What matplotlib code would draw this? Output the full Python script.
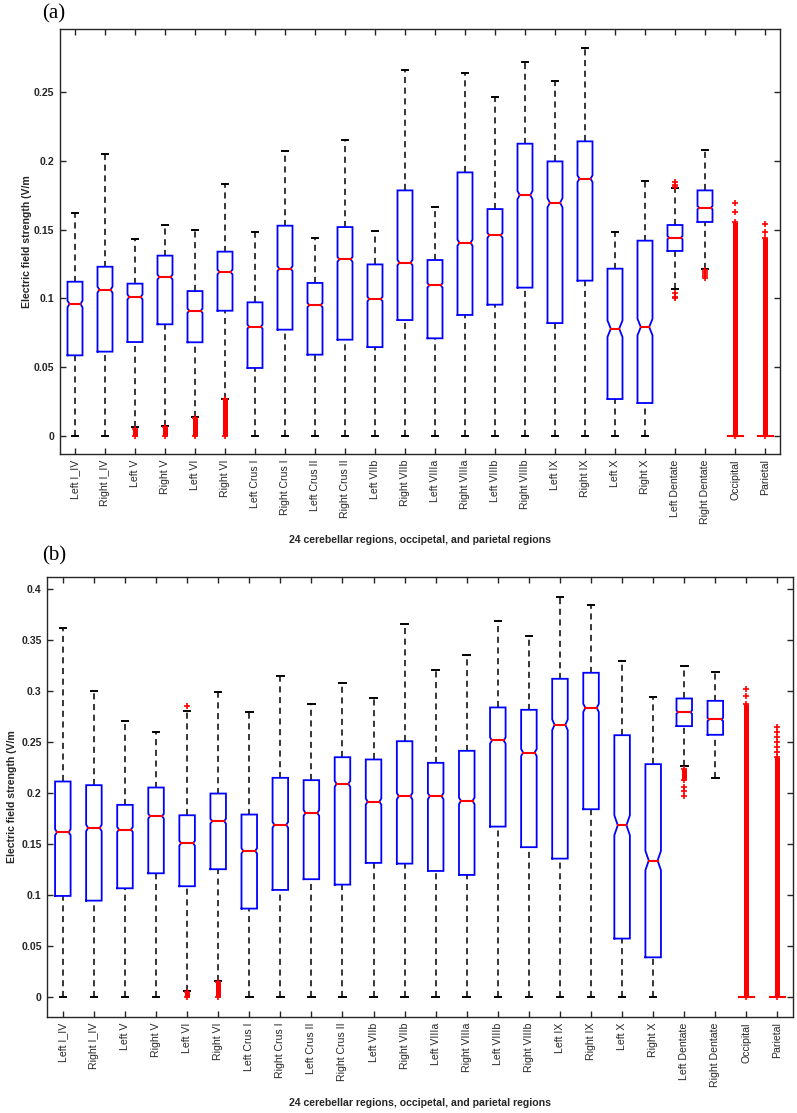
import matplotlib
matplotlib.use("Agg")
import matplotlib.pyplot as plt

plt.rcParams['font.family'] = ['Liberation Sans', 'DejaVu Sans']

regions = ["Left I_IV", "Right I_IV", "Left V", "Right V", "Left VI", "Right VI",
           "Left Crus I", "Right Crus I", "Left Crus II", "Right Crus II",
           "Left VIIb", "Right VIIb", "Left VIIIa", "Right VIIIa",
           "Left VIIIb", "Right VIIIb", "Left IX", "Right IX", "Left X", "Right X",
           "Left Dentate", "Right Dentate", "Occipital", "Parietal"]

# ---------------- panel (a) ----------------
a_q1 = [0.0585, 0.0612, 0.0682, 0.0811, 0.0680, 0.0910, 0.0493, 0.0772, 0.0590, 0.0699,
        0.0645, 0.0842, 0.0709, 0.0879, 0.0954, 0.1078, 0.0820, 0.1129, 0.0267, 0.0238,
        0.1345, 0.1556, 0.0, 0.0]
a_med = [0.0959, 0.1063, 0.1010, 0.1155, 0.0910, 0.1192, 0.0794, 0.1216, 0.0951, 0.1284,
         0.0995, 0.1260, 0.1095, 0.1405, 0.1459, 0.1752, 0.1696, 0.1871, 0.0779, 0.0791,
         0.1442, 0.1660, 0.0, 0.0]
a_q3 = [0.1121, 0.1230, 0.1107, 0.1311, 0.1053, 0.1340, 0.0971, 0.1529, 0.1112, 0.1519,
        0.1247, 0.1786, 0.1279, 0.1917, 0.1650, 0.2126, 0.1997, 0.2143, 0.1216, 0.1420,
        0.1534, 0.1786, 0.0, 0.0]
a_wlo = [0.0, 0.0, 0.0060, 0.0070, 0.0135, 0.0270, 0.0, 0.0, 0.0, 0.0,
         0.0, 0.0, 0.0, 0.0, 0.0, 0.0, 0.0, 0.0, 0.0, 0.0,
         0.1070, 0.1214, 0.0, 0.0]
a_whi = [0.1621, 0.2051, 0.1432, 0.1536, 0.1500, 0.1832, 0.1480, 0.2073, 0.1439, 0.2153,
         0.1487, 0.2662, 0.1667, 0.2638, 0.2468, 0.2718, 0.2582, 0.2820, 0.1480, 0.1852,
         0.1801, 0.2080, 0.0, 0.0]
a_notch = [0.0024, 0.0022, 0.0018, 0.0018, 0.0016, 0.0018, 0.0014, 0.0018, 0.0016, 0.0018,
           0.0016, 0.0020, 0.0016, 0.0022, 0.0018, 0.0030, 0.0034, 0.0024, 0.0060, 0.0060,
           0.0012, 0.0012, 0.0, 0.0]
a_fliers = [[], [], [], [], [], [], [], [], [], [], [], [], [], [], [], [], [], [], [], [],
            [0.1845, 0.1828, 0.1812, 0.1036, 0.1012, 0.1000],
            [0.1206, 0.1192, 0.1180, 0.1165, 0.1150],
            [0.1696, 0.1629], [0.1544, 0.1483]]
a_dense = [None, None, (0.0, 0.0049), (0.0, 0.0066), (0.0, 0.0129), (0.0, 0.0267),
           None, None, None, None, None, None, None, None, None, None, None, None,
           None, None, None, None, (0.0, 0.1558), (0.0, 0.1437)]
a_yticks = [0, 0.05, 0.1, 0.15, 0.2, 0.25]
a_yticklabels = ["0", "0.05", "0.1", "0.15", "0.2", "0.25"]

# ---------------- panel (b) ----------------
b_q1 = [0.0994, 0.0948, 0.1069, 0.1216, 0.1089, 0.1256, 0.0870, 0.1053, 0.1158, 0.1105,
        0.1318, 0.1311, 0.1239, 0.1200, 0.1674, 0.1472, 0.1360, 0.1844, 0.0576, 0.0392,
        0.2659, 0.2574, 0.0, 0.0]
b_med = [0.1619, 0.1661, 0.1645, 0.1776, 0.1511, 0.1727, 0.1436, 0.1691, 0.1808, 0.2093,
         0.1919, 0.1972, 0.1972, 0.1926, 0.2518, 0.2400, 0.2672, 0.2838, 0.1687, 0.1341,
         0.2796, 0.2724, 0.0, 0.0]
b_q3 = [0.2116, 0.2080, 0.1887, 0.2057, 0.1785, 0.1998, 0.1792, 0.2152, 0.2129, 0.2354,
        0.2332, 0.2511, 0.2299, 0.2417, 0.2842, 0.2819, 0.3123, 0.3182, 0.2570, 0.2286,
        0.2930, 0.2907, 0.0, 0.0]
b_wlo = [0.0, 0.0, 0.0, 0.0, 0.0060, 0.0160, 0.0, 0.0, 0.0, 0.0,
         0.0, 0.0, 0.0, 0.0, 0.0, 0.0, 0.0, 0.0, 0.0, 0.0,
         0.2266, 0.2155, 0.0, 0.0]
b_whi = [0.3623, 0.3008, 0.2711, 0.2603, 0.2812, 0.2989, 0.2793, 0.3149, 0.2871, 0.3080,
         0.2930, 0.3659, 0.3208, 0.3352, 0.3689, 0.3541, 0.3927, 0.3849, 0.3296, 0.2940,
         0.3250, 0.3192, 0.0, 0.0]
b_notch = [0.0030, 0.0032, 0.0024, 0.0024, 0.0024, 0.0024, 0.0026, 0.0028, 0.0028, 0.0030,
           0.0030, 0.0032, 0.0030, 0.0032, 0.0030, 0.0034, 0.0052, 0.0040, 0.0098, 0.0095,
           0.0016, 0.0016, 0.0, 0.0]
b_fliers = [[], [], [], [], [0.2855], [], [], [], [], [], [], [], [], [], [], [], [], [], [], [],
            [0.2063, 0.2021, 0.1975], [],
            [0.3025, 0.2959], [0.2652, 0.2603, 0.2554, 0.2505, 0.2456, 0.2407]]
b_dense = [None, None, None, None, (0.0, 0.0050), (0.0, 0.0150),
           None, None, None, None, None, None, None, None, None, None, None, None,
           None, None, (0.2135, 0.2236), None, (0.0, 0.2874), (0.0, 0.2358)]
b_yticks = [0, 0.05, 0.1, 0.15, 0.2, 0.25, 0.3, 0.35, 0.4]
b_yticklabels = ["0", "0.05", "0.1", "0.15", "0.2", "0.25", "0.3", "0.35", "0.4"]

xlabel_text = "24 cerebellar regions, occipetal, and parietal regions"
ylabel_text = "Electric field strength (V/m"

W, H = 797, 1113
fig = plt.figure(figsize=(W / 100, H / 100), dpi=100)

AX_COL = '#262626'


def px_rect(l, t, r, b):
    return [l / W, 1 - b / H, (r - l) / W, (b - t) / H]


def draw_panel(ax, q1, med, q3, wlo, whi, notch, fliers, dense, ylim, yticks, yticklabels):
    bw = 0.5
    cw = 0.21
    nmax = max(notch)
    for i in range(len(regions)):
        x = i + 1
        hl = bw / 2
        # whiskers
        ax.plot([x, x], [q3[i], whi[i]], color='black', lw=1.1, dashes=(4, 3), zorder=2)
        ax.plot([x, x], [wlo[i], q1[i]], color='black', lw=1.1, dashes=(4, 3), zorder=2)
        # caps
        ax.plot([x - cw / 2, x + cw / 2], [whi[i], whi[i]], color='black', lw=1.4, zorder=2)
        ax.plot([x - cw / 2, x + cw / 2], [wlo[i], wlo[i]], color='black', lw=1.4, zorder=2)
        # notched box
        ind = bw * (0.08 + 0.14 * (notch[i] / nmax)) if notch[i] > 0 else 0.0
        clo = max(q1[i], med[i] - notch[i])
        chi = min(q3[i], med[i] + notch[i])
        xs = [x - hl, x + hl, x + hl, x + hl - ind, x + hl, x + hl,
              x - hl, x - hl, x - hl + ind, x - hl, x - hl]
        ys = [q1[i], q1[i], clo, med[i], chi, q3[i], q3[i], chi, med[i], clo, q1[i]]
        ax.plot(xs, ys, color='#0000ff', lw=1.3, solid_joinstyle='miter', zorder=3)
        ax.plot([x - hl + ind, x + hl - ind], [med[i], med[i]], color='#ff0000', lw=1.5, zorder=4)
        # outliers
        if dense[i] is not None:
            lo, hi = dense[i]
            ax.plot([x, x], [lo, hi], color='#ff0000', lw=3.6, solid_capstyle='butt', zorder=5)
            ax.plot([x, x], [lo, hi], linestyle='none', marker='+', ms=4.5, mew=1.2,
                    color='#ff0000', zorder=5)
        if fliers[i]:
            ax.plot([x] * len(fliers[i]), fliers[i], linestyle='none', marker='+', ms=4.5,
                    mew=1.2, color='#ff0000', zorder=5)
    ax.set_xlim(0.5, len(regions) + 0.5)
    ax.set_ylim(*ylim)
    ax.set_xticks(range(1, len(regions) + 1))
    ax.set_xticklabels(regions, rotation=90, fontsize=7.6, color=AX_COL)
    ax.set_yticks(yticks)
    ax.set_yticklabels(yticklabels, fontsize=7.6, color=AX_COL, fontweight='bold')
    ax.tick_params(axis='both', direction='in', length=4.5, width=1.0, color=AX_COL,
                   top=True, right=True)
    ax.tick_params(axis='x', pad=4)
    ax.tick_params(axis='y', pad=4)
    for s in ax.spines.values():
        s.set_color(AX_COL)
        s.set_linewidth(1.0)


ax1 = fig.add_axes(px_rect(60, 29, 780, 454))
draw_panel(ax1, a_q1, a_med, a_q3, a_wlo, a_whi, a_notch, a_fliers, a_dense,
           (-0.01333, 0.2961), a_yticks, a_yticklabels)
ax2 = fig.add_axes(px_rect(47.3, 577, 793, 1016.8))
draw_panel(ax2, b_q1, b_med, b_q3, b_wlo, b_whi, b_notch, b_fliers, b_dense,
           (-0.0191, 0.4121), b_yticks, b_yticklabels)

# axis labels
fig.text(420 / W, 1 - 540 / H, xlabel_text, ha='center', va='center', fontsize=7.6,
         fontweight='bold', color=AX_COL)
fig.text(420 / W, 1 - 1103 / H, xlabel_text, ha='center', va='center', fontsize=7.6,
         fontweight='bold', color=AX_COL)
fig.text(27 / W, 1 - 241.5 / H, ylabel_text, ha='center', va='center', rotation=90,
         fontsize=7.6, fontweight='bold', color=AX_COL)
fig.text(12.5 / W, 1 - 797 / H, ylabel_text, ha='center', va='center', rotation=90,
         fontsize=7.6, fontweight='bold', color=AX_COL)

# panel letters
fig.text(42 / W, 1 - 14 / H, "(a)", ha='left', va='center', fontsize=15,
         family=['Liberation Serif', 'DejaVu Serif'], color='black')
fig.text(42 / W, 1 - 556 / H, "(b)", ha='left', va='center', fontsize=15,
         family=['Liberation Serif', 'DejaVu Serif'], color='black')

fig.savefig("out.png", dpi=100)
